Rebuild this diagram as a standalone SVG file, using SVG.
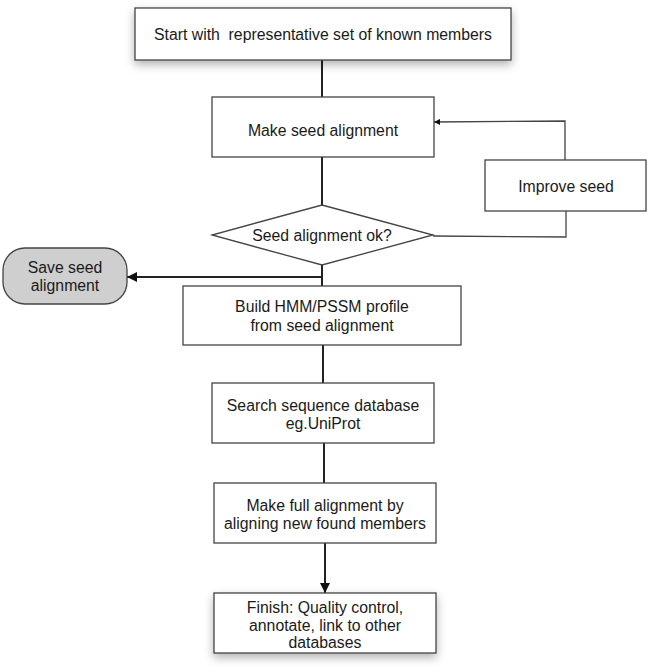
<svg xmlns="http://www.w3.org/2000/svg" width="648" height="672" viewBox="0 0 648 672">
<defs>
<filter id="sh" x="-10%" y="-30%" width="120%" height="170%">
<feDropShadow dx="0" dy="4" stdDeviation="5" flood-color="#000" flood-opacity="0.3"/>
</filter>
<marker id="ah" viewBox="0 0 10 10" refX="10" refY="5" markerWidth="6" markerHeight="6" markerUnits="userSpaceOnUse" orient="auto">
<path d="M0,0 L10,5 L0,10 z" fill="#111"/>
</marker>
<marker id="ahb" viewBox="0 0 10 10" refX="10" refY="5" markerWidth="10" markerHeight="10" markerUnits="userSpaceOnUse" orient="auto">
<path d="M0,0 L10,5 L0,10 z" fill="#111"/>
</marker>
</defs>
<style>
.box{fill:#fff;stroke:#444;stroke-width:1.3}
.t{font-family:"Liberation Sans",Arial,sans-serif;font-size:15.8px;fill:#1a1a1a;text-anchor:middle}
.spine{stroke:#222;stroke-width:2;fill:none}
.thin{stroke:#444;stroke-width:1.3;fill:none}
</style>
<rect width="648" height="672" fill="#fff"/>
<g id="connectors">
<line class="spine" x1="322" y1="60" x2="322" y2="97"/>
<line class="spine" x1="322" y1="157" x2="322" y2="205"/>
<line class="spine" x1="322" y1="265" x2="322" y2="286"/>
<line class="spine" x1="322" y1="277" x2="127" y2="277" marker-end="url(#ahb)"/>
<line class="spine" x1="323" y1="345" x2="323" y2="383"/>
<line class="spine" x1="324" y1="443" x2="324" y2="483"/>
<line class="spine" x1="325" y1="543" x2="325" y2="593" marker-end="url(#ahb)"/>
<polyline class="thin" points="565,160 565,121 434,122" marker-end="url(#ah)"/>
<polyline class="thin" points="433,236 566,237 566,211"/>
</g>
<g id="start">
<rect class="box" x="135" y="8" width="376" height="52" filter="url(#sh)"/>
<text class="t" x="323" y="39.5" xml:space="preserve">Start with  representative set of known members</text>
</g>
<g id="make-seed">
<rect class="box" x="212" y="97" width="222" height="60"/>
<text class="t" x="323" y="135.5">Make seed alignment</text>
</g>
<g id="improve-seed">
<rect class="box" x="485" y="160" width="161" height="51"/>
<text class="t" x="566" y="191.5">Improve seed</text>
</g>
<g id="seed-ok">
<polygon class="box" points="322,205 433,235 322,265 212,235"/>
<text class="t" x="322" y="240.5">Seed alignment ok?</text>
</g>
<g id="save-seed">
<rect x="3" y="248" width="124" height="56" rx="22" ry="22" fill="#cfcfcf" stroke="#444" stroke-width="1.3"/>
<text class="t" x="65" y="272.5">Save seed</text>
<text class="t" x="65" y="290.5">alignment</text>
</g>
<g id="build-hmm">
<rect class="box" x="183" y="286" width="278" height="59"/>
<text class="t" x="322" y="312">Build HMM/PSSM profile</text>
<text class="t" x="322" y="330.5">from seed alignment</text>
</g>
<g id="search">
<rect class="box" x="212" y="383" width="222" height="60"/>
<text class="t" x="323" y="410.5">Search sequence database</text>
<text class="t" x="323" y="428.5">eg.UniProt</text>
</g>
<g id="full-align">
<rect class="box" x="214" y="483" width="222" height="60"/>
<text class="t" x="325" y="510.5">Make full alignment by</text>
<text class="t" x="325" y="528.5">aligning new found members</text>
</g>
<g id="finish">
<rect class="box" x="214" y="593" width="222" height="60" filter="url(#sh)"/>
<text class="t" x="325" y="612.5">Finish: Quality control,</text>
<text class="t" x="325" y="630.5">annotate, link to other</text>
<text class="t" x="325" y="647.5">databases</text>
</g>
</svg>
